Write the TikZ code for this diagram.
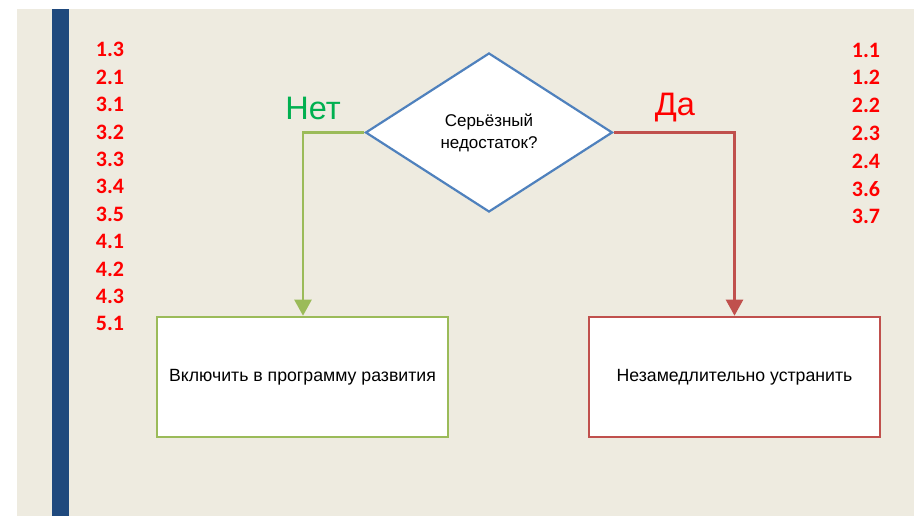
\documentclass[tikz,border=0pt]{standalone}
\usepackage{fontspec}
\setmainfont{Liberation Sans}
\newfontfamily\numfont{Carlito}
\usetikzlibrary{arrows.meta,shapes.geometric}
\definecolor{bgbeige}{HTML}{EEEBE0}
\definecolor{barblue}{HTML}{1F497D}
\definecolor{dblue}{HTML}{4F81BD}
\definecolor{lgreen}{HTML}{9BBB59}
\definecolor{lred}{HTML}{C0504D}
\definecolor{netgreen}{HTML}{00B050}
\begin{document}
\begin{tikzpicture}[x=1pt,y=-1pt,
  numstyle/.style={text=red,font=\numfont\bfseries\fontsize{22}{26}\selectfont,inner sep=0pt,anchor=center},
  boxstyle/.style={draw,fill=white,line width=2.6pt,minimum width=291pt,minimum height=120pt,inner sep=0pt,font=\fontsize{17.7}{21}\selectfont},
  labstyle/.style={font=\fontsize{32.5}{36}\selectfont,inner sep=0pt},
  conn/.style={line width=2.4pt,-{Triangle[width=17pt,length=16pt]}}]
\useasboundingbox (0,0) rectangle (914,516);
\fill[white] (0,0) rectangle (914,516);
\fill[bgbeige] (17,9) rectangle (914,516);
\fill[barblue] (52,9) rectangle (69,516);
% diamond
\node[diamond,draw=dblue,fill=white,line width=2.2pt,minimum width=247pt,minimum height=159pt,inner sep=0pt,aspect=1.55,
  font=\fontsize{17}{22}\selectfont,align=center] (dec) at (489,132.5) {Серьёзный\\недостаток?};
% boxes
\node[boxstyle,draw=lgreen] (left) at (302.5,377) {Включить в программу развития};
\node[boxstyle,draw=lred] (right) at (734.5,377) {Незамедлительно устранить};
% connectors
\draw[conn,draw=lgreen] (dec.west) -| (left.north -| 303,0);
\draw[conn,draw=lred] (dec.east) -| (right.north);
% labels
\node[labstyle,text=netgreen] (net) at (313,108) {Нет};
\node[labstyle,text=red] (da) at (675,108) {Да};
% left numbers
\foreach \t [count=\i from 0] in {1.3,2.1,3.1,3.2,3.3,3.4,3.5,4.1,4.2,4.3,5.1}
  \node[numstyle] (l\i) at (110,49.7+27.4*\i) {\t};
\foreach \t [count=\i from 0] in {1.1,1.2,2.2,2.3,2.4,3.6,3.7}
  \node[numstyle] (r\i) at (866,50+27.8*\i) {\t};
\end{tikzpicture}
\end{document}
